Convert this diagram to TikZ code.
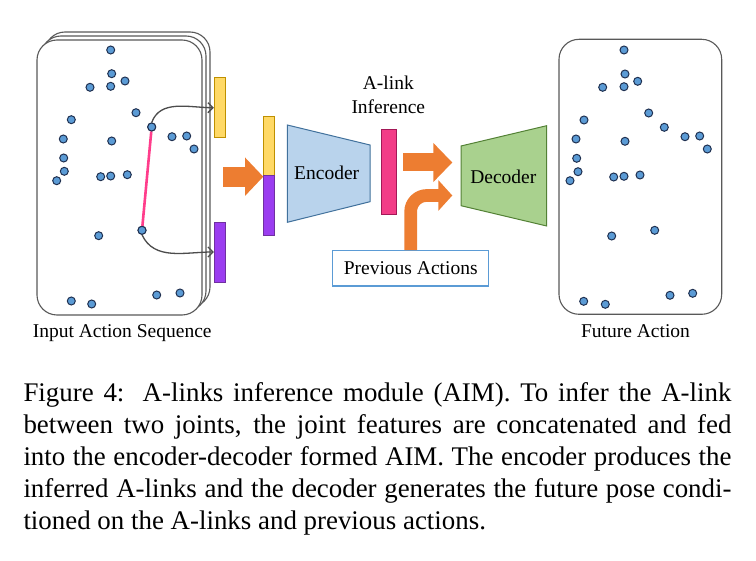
\documentclass[tikz,border=0pt]{standalone}
\usepackage{fontspec}
\setmainfont{Liberation Serif}
\usetikzlibrary{arrows.meta,calc}
\definecolor{dotfill}{HTML}{5B9BD5}
\definecolor{dotline}{HTML}{1F3050}
\definecolor{yelfill}{HTML}{FFD966}
\definecolor{yelline}{HTML}{BF9000}
\definecolor{purfill}{HTML}{9B3DF0}
\definecolor{purline}{HTML}{7030A0}
\definecolor{pinkfill}{HTML}{F23C87}
\definecolor{pinkline}{HTML}{A31857}
\definecolor{linkcol}{HTML}{FF3D8B}
\definecolor{orng}{HTML}{ED7D31}
\definecolor{encfill}{HTML}{B9D3EC}
\definecolor{encline}{HTML}{41719C}
\definecolor{decfill}{HTML}{A9D18E}
\definecolor{decline}{HTML}{538135}
\definecolor{framecol}{HTML}{595959}
\definecolor{prevline}{HTML}{5B9BD5}
\begin{document}
\begin{tikzpicture}[x=1pt,y=-1pt,
  frame/.style={draw=framecol,line width=1.1pt,fill=white,rounded corners=20pt},
  joint/.style={circle,draw=dotline,fill=dotfill,line width=1pt,minimum size=8pt,inner sep=0pt},
  bar/.style={rectangle,inner sep=0pt,line width=0.9pt,minimum width=11pt},
  ybar/.style={bar,draw=yelline,fill=yelfill},
  pbar/.style={bar,draw=purline,fill=purfill},
  lbl/.style={font=\fontsize{19.5}{23}\selectfont,inner sep=0pt},
  capline/.style={font=\fontsize{26.9}{32}\selectfont,inner sep=0pt,anchor=base west},
  linkarrow/.style={draw=black!70,line width=1.3pt,-{Straight Barb[length=5pt,width=10pt]}},
]
\useasboundingbox (0,0) rectangle (756,561);

% ---------- input stack ----------
\draw[frame] (45,32) rectangle (210,307);
\draw[frame] (41,36) rectangle (206,311);
\node[frame,minimum width=165pt,minimum height=275pt,inner sep=0pt] (inbox) at (119.5,177.5) {};

\foreach \n/\x/\y in {a1/110.7/50, a2/111.7/73.7, a3/125/81, a4/90/87.3, a5/110.7/86.3,
  a6/136/112.7, a7/71.3/119.7, a8/151.7/127, a9/63.3/139, a10/111.7/141, a11/172/136.7,
  a12/186.7/136, a13/194/149, a14/63.7/158, a15/64.3/171.3, a16/56.7/180.7, a17/100.7/176.7,
  a18/110.7/176, a19/127.3/174.7, a20/142/230.3, a21/98.7/235.7, a22/71.3/301, a23/91.7/304,
  a24/156.7/295, a25/180/293}
  \node[joint] (\n) at (\x,\y) {};

\draw[linkcol,line width=2.6pt] (a8) -- (a20);
\node[joint] at (a8) {};
\node[joint] at (a20) {};

\node[ybar,minimum height=60pt] (ya) at (219.8,107.7) {};
\node[pbar,minimum height=60pt] (pa) at (219.8,252) {};

\draw[linkarrow] (a8.north) to[out=70,in=180] (ya.west);
\draw[linkarrow] (a20.south) to[out=-65,in=180] (pa.west);

\node[lbl,anchor=base] (inlbl) at (122.2,338) {Input Action Sequence};

% ---------- concatenated feature ----------
\node[ybar,minimum height=59pt] (cy) at (269,145.5) {};
\node[pbar,minimum height=60.7pt] (cp) at (269,205.35) {};
\coordinate (cat) at (263.3,176.7);
\coordinate (catsrc) at (223.3,176.7);
\draw[orng,line width=20pt,-{Triangle[length=18.3pt,width=37.4pt]}] (catsrc) -- (cat);

% ---------- encoder ----------
\filldraw[fill=encfill,draw=encline,line width=1pt] (287.3,125) -- (370,145) -- (370,201.7) -- (287.3,222.3) -- cycle;
\node[lbl,anchor=base] (enc) at (326.7,179.3) {Encoder};

% ---------- A-link inference ----------
\node[bar,draw=pinkline,fill=pinkfill,minimum width=15pt,minimum height=85pt] (alink) at (389.2,171.5) {};
\node[lbl,anchor=base] (al1) at (388.3,89.3) {A-link};
\node[lbl,anchor=base] (al2) at (388.3,113.3) {Inference};

% ---------- decoder ----------
\filldraw[fill=decfill,draw=decline,line width=1pt] (461,146) -- (546.7,125.7) -- (546.7,226) -- (461,205.7) -- cycle;
\node[lbl,anchor=base] (dec) at (503.3,183.3) {Decoder};

\coordinate (decin1) at (452.3,162.5);
\coordinate (decin2) at (452.3,195.5);
\coordinate (alsrc) at (403.3,162.5);
\draw[orng,line width=18pt,-{Triangle[length=19pt,width=38pt]}] (alsrc) -- (decin1);

% ---------- previous actions ----------
\node[draw=prevline,line width=1.1pt,minimum width=156pt,minimum height=35.3pt,inner sep=0pt,fill=white] (prev) at (410.7,268.35) {};
\node[lbl,anchor=base] (prevtxt) at (410.7,275) {Previous Actions};
\draw[orng,line width=12.7pt,rounded corners=16pt,-{Triangle[length=14pt,width=30pt]}] (prev.north) |- (decin2);

% ---------- future action ----------
\node[frame,minimum width=162.7pt,minimum height=275pt,inner sep=0pt] (outbox) at (640.35,176.8) {};
\foreach \n/\x/\y in {b1/624/50, b2/625/74, b3/637.7/81.3, b4/602.7/87.3, b5/624/86.7,
  b6/648.7/113, b7/584/120, b8/664.3/127.3, b9/576/139, b10/625/141.3, b11/685/136.7,
  b12/699.7/136, b13/707.3/149, b14/576.7/158.3, b15/578/171.7, b16/570/180.7, b17/613.7/177,
  b18/624/176.3, b19/640/175, b20/654.7/230.3, b21/611.7/236, b22/583.7/301.3, b23/605.3/304.3,
  b24/670/295.3, b25/692.7/293.3}
  \node[joint] (\n) at (\x,\y) {};
\node[lbl,anchor=base] (outlbl) at (635.5,338) {Future Action};

% ---------- caption ----------
\node[capline] (c1) at (23.3,401.7) {\makebox[708pt][s]{Figure 4:\hspace{0.12em} A-links inference module (AIM). To infer the A-link}};
\node[capline] (c2) at (23.3,433.6) {\makebox[708pt][s]{between two joints, the joint features are concatenated and fed}};
\node[capline] (c3) at (23.3,465.5) {\makebox[708pt][s]{into the encoder-decoder formed AIM. The encoder produces the}};
\node[capline] (c4) at (23.3,497.7) {\makebox[708pt][s]{inferred A-links and the decoder generates the future pose condi-}};
\node[capline] (c5) at (23.3,529.8) {tioned on the A-links and previous actions.};
\end{tikzpicture}
\end{document}
